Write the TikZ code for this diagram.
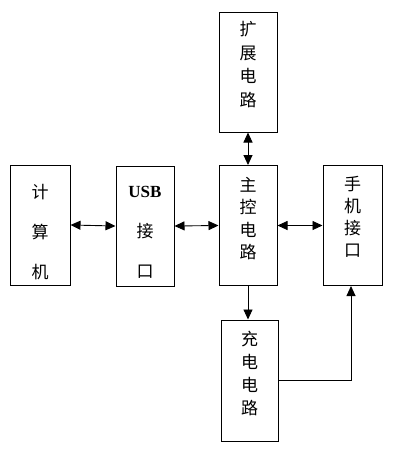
\documentclass[tikz,border=0pt]{standalone}
\usepackage{fontspec}
\setmainfont{Liberation Serif}
\newfontfamily\cjk{Noto Sans CJK SC}
\usetikzlibrary{arrows.meta}

\tikzset{
  blk/.style={draw=black, line width=1pt, inner sep=0pt, minimum width=58pt, minimum height=120pt},
  lbl/.style={align=center, inner sep=0pt, font=\cjk\fontsize{17}{#1}\selectfont},
  tip/.style={line width=0.9pt, -{Triangle[length=10pt,width=9pt]}},
  tips/.style={line width=0.9pt, {Triangle[length=10pt,width=9pt]}-{Triangle[length=10pt,width=9pt]}}
}

\begin{document}
\begin{tikzpicture}[x=1pt,y=-1pt]
\useasboundingbox (0,0) rectangle (400,450);
% boxes
\node[blk, minimum width=60pt] (comp) at (40,225) {};
\node[blk] (usb)   at (145,226) {};
\node[blk] (main)  at (248,225.5) {};
\node[blk] (ext)   at (248,72) {};
\node[blk, minimum width=59pt] (phone) at (352.5,225.5) {};
\node[blk, minimum width=57pt, minimum height=121pt] (chg) at (249.5,380.5) {};
% texts
\node[lbl=40] (comp-t)  at (40,232)    {计\\算\\机};
\node[lbl=40] (usb-t)   at (145,232)   {{\rmfamily\bfseries\fontsize{17}{20}\selectfont USB}\\接\\口};
\node[lbl=23.7] (ext-t) at (248,64.5)  {扩\\展\\电\\路};
\node[lbl=22.3] (main-t) at (248,218.5) {主\\控\\电\\路};
\node[lbl=22] (phone-t) at (352.5,217) {手\\机\\接\\口};
\node[lbl=22.7] (chg-t) at (249.5,373.5) {充\\电\\电\\路};
% links
\draw[tips] (comp.east) -- (usb.west);
\draw[tips] (usb.east) -- (main.west);
\draw[tips] (main.east) -- (phone.west);
\draw[tips] (ext.south) -- (main.north);
\draw[tip] (main.south) -- (main.south |- chg.north);
\draw[tip] (chg.east) -| ([xshift=-1.5pt]phone.south);
\end{tikzpicture}
\end{document}
